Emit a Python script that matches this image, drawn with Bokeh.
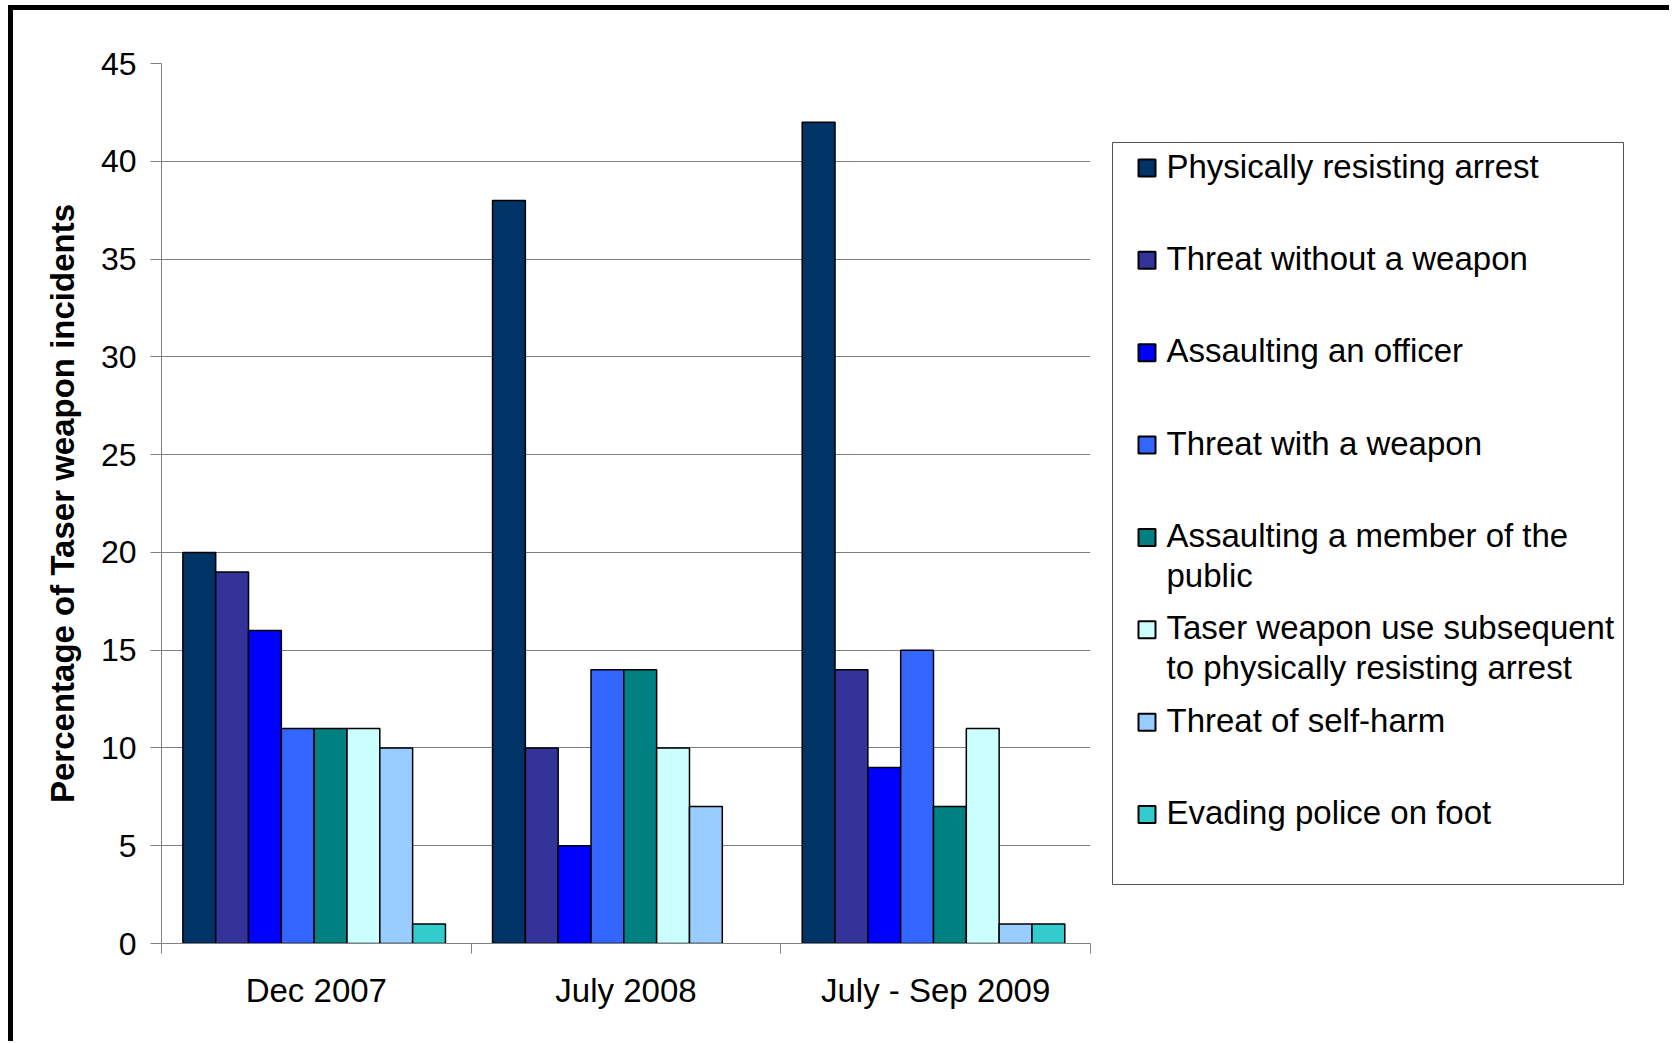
from bokeh.plotting import figure
from bokeh.models import ColumnDataSource, Range1d, LinearAxis, FixedTicker
from bokeh.transform import dodge
from bokeh.layouts import row
from bokeh.embed import file_html
from bokeh.resources import INLINE
from bokeh.core.properties import value

# ---- data ----
periods = ["Dec 2007", "July 2008", "July - Sep 2009"]
series_names = [
    "Physically resisting arrest",
    "Threat without a weapon",
    "Assaulting an officer",
    "Threat with a weapon",
    "Assaulting a member of the\npublic",
    "Taser weapon use subsequent\nto physically resisting arrest",
    "Threat of self-harm",
    "Evading police on foot",
]
physically_resisting = [20, 38, 42]
threat_without_weapon = [19, 10, 14]
assaulting_officer = [16, 5, 9]
threat_with_weapon = [11, 14, 15]
assaulting_public = [11, 14, 7]
subsequent_use = [11, 10, 11]
self_harm = [10, 7, 1]
evading_on_foot = [1, 0, 1]
series_values = [physically_resisting, threat_without_weapon, assaulting_officer,
                 threat_with_weapon, assaulting_public, subsequent_use, self_harm,
                 evading_on_foot]
colors = ["#003366", "#333399", "#0000FF", "#3366FF", "#008080", "#CCFFFF", "#99CCFF", "#33CCCC"]
y_ticks = [0, 5, 10, 15, 20, 25, 30, 35, 40, 45]

FONT = "Liberation Sans"
GRAY = "#808080"

n_per = len(periods)
centers = [i + 0.5 for i in range(n_per)]

BT, FH, BB = 53, 880, 98   # shared top border, frame height, bottom border

# ---- main chart ----
p = figure(x_range=Range1d(0, n_per), y_range=Range1d(0, 45),
           frame_width=929, frame_height=FH,
           min_border_left=148, min_border_top=BT, min_border_right=10, min_border_bottom=BB,
           output_backend="svg", toolbar_location=None,
           x_axis_location=None)
p.outline_line_color = None

yt = FixedTicker(ticks=y_ticks)
yax = p.yaxis[0]
yax.ticker = yt
p.ygrid.ticker = yt
p.ygrid.grid_line_color = GRAY
p.ygrid.grid_line_width = 1
yax.axis_line_color = GRAY
yax.major_tick_line_color = GRAY
yax.major_tick_out = 11
yax.major_tick_in = 0
yax.minor_tick_line_color = None
yax.major_label_standoff = 14
yax.major_label_text_font = FONT
yax.major_label_text_font_size = "32px"
yax.major_label_text_color = "black"
yax.axis_label = "Percentage of Taser weapon incidents"
yax.axis_label_text_font = FONT
yax.axis_label_text_font_size = "33px"
yax.axis_label_text_font_style = "bold"
yax.axis_label_text_color = "black"
yax.axis_label_standoff = 17

# category boundary ticks (Excel style)
tick_axis = LinearAxis(ticker=FixedTicker(ticks=list(range(n_per + 1))))
tick_axis.axis_line_color = GRAY
tick_axis.major_tick_line_color = GRAY
tick_axis.major_tick_out = 10
tick_axis.major_tick_in = 0
tick_axis.minor_tick_line_color = None
tick_axis.major_label_standoff = 0
tick_axis.major_label_text_font_size = "0px"
tick_axis.major_label_overrides = {i: "" for i in range(n_per + 1)}

# category labels at group centres
label_axis = LinearAxis(ticker=FixedTicker(ticks=centers))
label_axis.major_label_overrides = {c: name for c, name in zip(centers, periods)}
label_axis.axis_line_color = None
label_axis.major_tick_line_color = None
label_axis.minor_tick_line_color = None
label_axis.major_tick_out = 0
label_axis.major_tick_in = 0
label_axis.major_label_standoff = 18
label_axis.major_label_text_font = FONT
label_axis.major_label_text_font_size = "33px"
label_axis.major_label_text_color = "black"

p.add_layout(tick_axis, "below")
p.add_layout(label_axis, "below")
for g in p.xgrid:
    g.visible = False

bar_w = 0.106
group_shift = -0.007
n = len(series_names)
for j, (vals, col) in enumerate(zip(series_values, colors)):
    src = ColumnDataSource(dict(xc=[c for c, v in zip(centers, vals) if v > 0],
                                val=[v for v in vals if v > 0]))
    p.vbar(x=dodge("xc", (j - (n - 1) / 2) * bar_w + group_shift), top="val",
           width=bar_w, source=src, fill_color=col, line_color="black", line_width=1.5)

# ---- legend (drawn as its own panel, same vertical frame as the chart) ----
LW = 569
lg = figure(x_range=Range1d(0, LW), y_range=Range1d(FH, 0),
            frame_width=LW, frame_height=FH,
            min_border_left=0, min_border_top=BT, min_border_right=0, min_border_bottom=BB,
            output_backend="svg", toolbar_location=None,
            x_axis_location=None, y_axis_location=None)
lg.grid.visible = False
lg.outline_line_color = None

# legend box
lg.quad(left=[12], right=[523], top=[79], bottom=[821], fill_color=None,
        line_color="#555555", line_width=1)

first_y, step = 104.5, 92.36
item_y = [first_y + i * step for i in range(n)]
lines1 = [s.split("\n")[0] for s in series_names]
two = [(y, s.split("\n")[1]) for y, s in zip(item_y, series_names) if "\n" in s]

lg.rect(x=[46.5] * n, y=item_y, width=17, height=17, width_units="screen", height_units="screen",
        fill_color=colors, line_color="black", line_width=2)
lg.text(x=[66] * n, y=[y - 2 for y in item_y], text=lines1, text_baseline="middle",
        text_align="left", text_font=value(FONT), text_font_size="33px", text_color="black")
lg.text(x=[66] * len(two), y=[y - 2 + 40 for y, _ in two], text=[t for _, t in two],
        text_baseline="middle", text_align="left", text_font=value(FONT),
        text_font_size="33px", text_color="black")

layout = row(p, lg, styles={"border-left": "5px solid black", "border-top": "5px solid black",
                            "margin-left": "8px", "margin-top": "5px"})

open("out.html", "w").write(file_html(layout, INLINE))
